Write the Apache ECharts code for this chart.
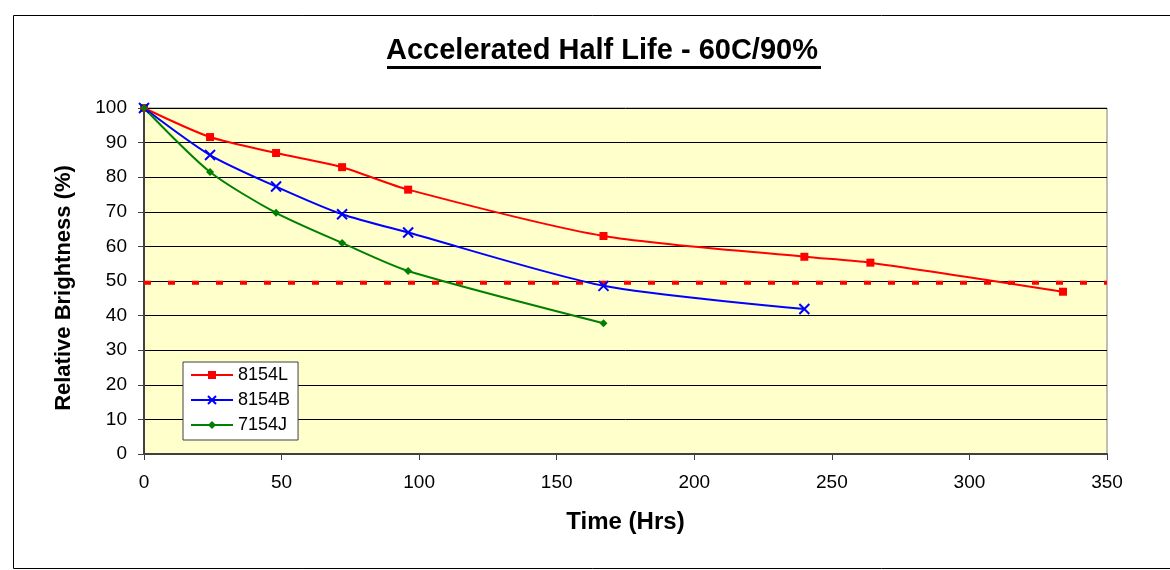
<!DOCTYPE html>
<html><head><meta charset="utf-8">
<script src="https://cdn.jsdelivr.net/npm/echarts@6/dist/echarts.min.js"></script>
<style>html,body{margin:0;padding:0;background:#fff}#c{width:1170px;height:570px}</style>
</head><body><div id="c"></div>
<script>
const titleText = 'Accelerated Half Life - 60C/90%';
const seriesNames = ['8154L', '8154B', '7154J'];
const hours8154L = [0, 24, 48, 72, 96, 167, 240, 264, 334];
const vals8154L = [100, 91.6, 87.0, 82.9, 76.4, 63.0, 57.0, 55.3, 46.9];
const hours8154B = [0, 24, 48, 72, 96, 167, 240];
const vals8154B = [100, 86.4, 77.3, 69.3, 64.0, 48.6, 41.9];
const hours7154J = [0, 24, 48, 72, 96, 167];
const vals7154J = [100, 81.5, 69.7, 61.0, 52.9, 37.8];
const halfLifeLevel = 49.5;

const pair = (xs, ys) => xs.map((x, i) => [x, ys[i]]);
const crossPath = 'path://M0,0 L10,10 M10,0 L0,10';

const chart = echarts.init(document.getElementById('c'));
const font = 'Liberation Sans, Arial, sans-serif';
chart.setOption({
  animation: false,
  backgroundColor: '#fff',
  title: {
    text: titleText, left: 386, top: 36, padding: 0,
    textStyle: { fontFamily: font, fontSize: 29, fontWeight: 'bold', color: '#000' }
  },
  graphic: [
    { type: 'rect', shape: { x: 13.5, y: 15.5, width: 1170, height: 553 }, style: { fill: 'none', stroke: '#000', lineWidth: 1 }, silent: true },
    { type: 'rect', shape: { x: 387, y: 66, width: 434, height: 3 }, style: { fill: '#000' }, silent: true }
  ],
  grid: { left: 144, right: 63, top: 108, bottom: 116, show: true, backgroundColor: '#FFFFCC', borderColor: '#808080', borderWidth: 1 },
  legend: {
    orient: 'vertical', left: 183, top: 362,
    backgroundColor: '#fff', borderColor: '#404040', borderWidth: 1,
    padding: [4, 8, 6, 7], itemGap: 7, itemWidth: 42, itemHeight: 10,
    textStyle: { fontFamily: font, fontSize: 18, color: '#000' },
    data: seriesNames
  },
  xAxis: {
    type: 'value', min: 0, max: 350, interval: 50,
    name: 'Time (Hrs)', nameLocation: 'middle', nameGap: 56,
    nameTextStyle: { fontFamily: font, fontSize: 24, fontWeight: 'bold', color: '#000' },
    axisLine: { lineStyle: { color: '#404040', width: 2 } },
    axisTick: { show: true, length: 6, lineStyle: { color: '#404040' } },
    axisLabel: { fontFamily: font, fontSize: 19, color: '#000', margin: 19 },
    splitLine: { show: false }
  },
  yAxis: {
    type: 'value', min: 0, max: 100, interval: 10,
    name: 'Relative Brightness (%)', nameLocation: 'middle', nameGap: 69,
    nameTextStyle: { fontFamily: font, fontSize: 22, fontWeight: 'bold', color: '#000', padding: [0, 14, 0, 0] },
    axisLine: { show: true, lineStyle: { color: '#404040', width: 2 } },
    axisTick: { show: true, length: 6, lineStyle: { color: '#404040' } },
    axisLabel: { fontFamily: font, fontSize: 19, color: '#000', margin: 17 },
    splitLine: { show: true, lineStyle: { color: '#000', width: 1 } }
  },
  series: [
    { name: '8154L', type: 'line', data: pair(hours8154L, vals8154L), smooth: 0.25,
      color: '#FF0000', lineStyle: { width: 2 }, symbol: 'rect', symbolSize: 8, z: 4 },
    { name: '8154B', type: 'line', data: pair(hours8154B, vals8154B), smooth: 0.25,
      color: '#0000FF', lineStyle: { width: 2 }, symbol: crossPath, symbolSize: 10,
      itemStyle: { color: '#0000FF', borderColor: '#0000FF', borderWidth: 2 }, z: 4 },
    { name: '7154J', type: 'line', data: pair(hours7154J, vals7154J), smooth: 0.25,
      color: '#008000', lineStyle: { width: 2 }, symbol: 'diamond', symbolSize: 8, z: 4 },
    { name: 'half', type: 'line', data: [[0, halfLifeLevel], [350, halfLifeLevel]], symbol: 'none',
      lineStyle: { color: '#FF0000', width: 4, type: [7, 17] }, z: 3 }
  ]
});
</script></body></html>
